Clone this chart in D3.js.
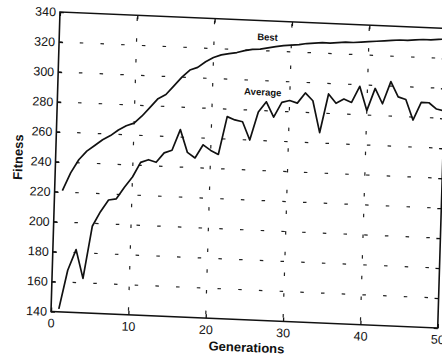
<!DOCTYPE html>
<html>
<head>
<meta charset="utf-8">
<script src="https://cdn.jsdelivr.net/npm/d3@7"></script>
<style>
  html, body { margin: 0; padding: 0; background: #fff; }
  svg { display: block; }
  text { font-family: "Liberation Sans", Arial, sans-serif; fill: #111; }
</style>
</head>
<body>
<svg id="chart" width="442" height="357"></svg>
<script>
// ---- data ----
const generations = d3.range(1, 51);
const bestFitness = [221, 233, 242, 248, 252, 256, 259, 263, 266, 268,
                     273, 279, 285, 288, 294, 300, 305, 307, 311, 314,
                     316, 317, 318, 319.5, 320.5, 321, 322, 323, 324, 324.5,
                     325, 326, 326.5, 327, 327, 327.5, 328, 328, 328.5, 329,
                     329.5, 330, 330.5, 331, 331, 331.5, 332, 332, 332.5, 333];
const averageFitness = [142, 168, 182, 163, 198, 208, 216, 217, 225, 232,
                        242, 244, 242.5, 249, 251, 265, 250, 246.5, 255.5, 252,
                        249.5, 275, 273, 272, 260, 279, 286, 276, 286, 287.5,
                        286, 293, 288, 267, 293, 287, 290, 288, 299, 283,
                        298, 288, 303, 293, 291.5, 278, 290, 290, 286, 285];
const xTicks = [0, 10, 20, 30, 40, 50];
const yTicks = [140, 160, 180, 200, 220, 240, 260, 280, 300, 320, 340];
const xDomain = [0, 50];
const yDomain = [140, 340];
const seriesLabels = [
  { name: "Best", gen: 26.9, fit: 329.2 },
  { name: "Average", gen: 26.5, fit: 292.4 }
];

// ---- layout ----
const W = 386.7, H = 299.5;
const svg = d3.select("#chart");
svg.append("rect").attr("width", 442).attr("height", 357).attr("fill", "#fff");

// the scanned figure is slightly skewed / rotated
const g = svg.append("g")
  .attr("transform", "matrix(1,0.0427,-0.03,1,59.985,12)");

const x = d3.scaleLinear().domain(xDomain).range([0, W]);
const y = d3.scaleLinear().domain(yDomain).range([H, 0]);

// grid (dotted, printed as short dashes)
const grid = g.append("g").attr("stroke", "#222").attr("stroke-width", 1.2)
  .attr("stroke-dasharray", "3.5,17.2").attr("fill", "none");
grid.selectAll("line.h").data(yTicks.slice(1, -1)).join("line")
  .attr("class", "h")
  .attr("x1", 0).attr("x2", W)
  .attr("y1", d => y(d)).attr("y2", d => y(d));
grid.selectAll("line.v").data(xTicks.slice(1, -1)).join("line")
  .attr("class", "v")
  .attr("x1", d => x(d)).attr("x2", d => x(d))
  .attr("y1", H).attr("y2", 0)
  .attr("stroke-dashoffset", -4);

// axes with inward ticks
const xAxis = d3.axisBottom(x).tickValues(xTicks).tickSizeInner(-4).tickSizeOuter(0).tickPadding(7);
const yAxis = d3.axisLeft(y).tickValues(yTicks).tickSizeInner(-4).tickSizeOuter(0).tickPadding(4);
const xTop = d3.axisTop(x).tickValues(xTicks).tickSizeInner(-4).tickSizeOuter(0).tickFormat("");
const yRight = d3.axisRight(y).tickValues(yTicks).tickSizeInner(-4).tickSizeOuter(0).tickFormat("");

function styleAxis(sel) {
  sel.select(".domain").remove();
  sel.selectAll(".tick line").attr("stroke", "#111").attr("stroke-width", 1.3);
  sel.selectAll(".tick text").attr("font-size", 12.5).attr("fill", "#111");
}
g.append("g").attr("transform", `translate(0,${H})`).call(xAxis).call(styleAxis);
g.append("g").call(yAxis).call(styleAxis);
g.append("g").call(xTop).call(styleAxis);
g.append("g").attr("transform", `translate(${W},0)`).call(yRight).call(styleAxis);

// box
g.append("rect").attr("x", 0).attr("y", 0).attr("width", W).attr("height", H)
  .attr("fill", "none").attr("stroke", "#111").attr("stroke-width", 1.6);

// lines
const line = d3.line().x(d => x(d[0])).y(d => y(d[1]));
g.append("path").datum(generations.map((gen, i) => [gen, bestFitness[i]]))
  .attr("d", line).attr("fill", "none").attr("stroke", "#111")
  .attr("stroke-width", 1.7).attr("stroke-linejoin", "round");
g.append("path").datum(generations.map((gen, i) => [gen, averageFitness[i]]))
  .attr("d", line).attr("fill", "none").attr("stroke", "#111")
  .attr("stroke-width", 1.7).attr("stroke-linejoin", "round");

// series labels
g.selectAll("text.lab").data(seriesLabels).join("text")
  .attr("class", "lab")
  .attr("x", d => x(d.gen)).attr("y", d => y(d.fit))
  .attr("dy", "0.35em").attr("text-anchor", "middle")
  .attr("font-size", 9.5).attr("font-weight", "bold")
  .text(d => d.name);

// axis titles
g.append("text").attr("x", W / 2 + 3).attr("y", H + 32)
  .attr("text-anchor", "middle").attr("font-size", 13).attr("font-weight", "bold")
  .text("Generations");
g.append("text").attr("transform", `translate(-33,${H / 2 - 3}) rotate(-90)`)
  .attr("text-anchor", "middle").attr("font-size", 13).attr("font-weight", "bold")
  .text("Fitness");
</script>
</body>
</html>
